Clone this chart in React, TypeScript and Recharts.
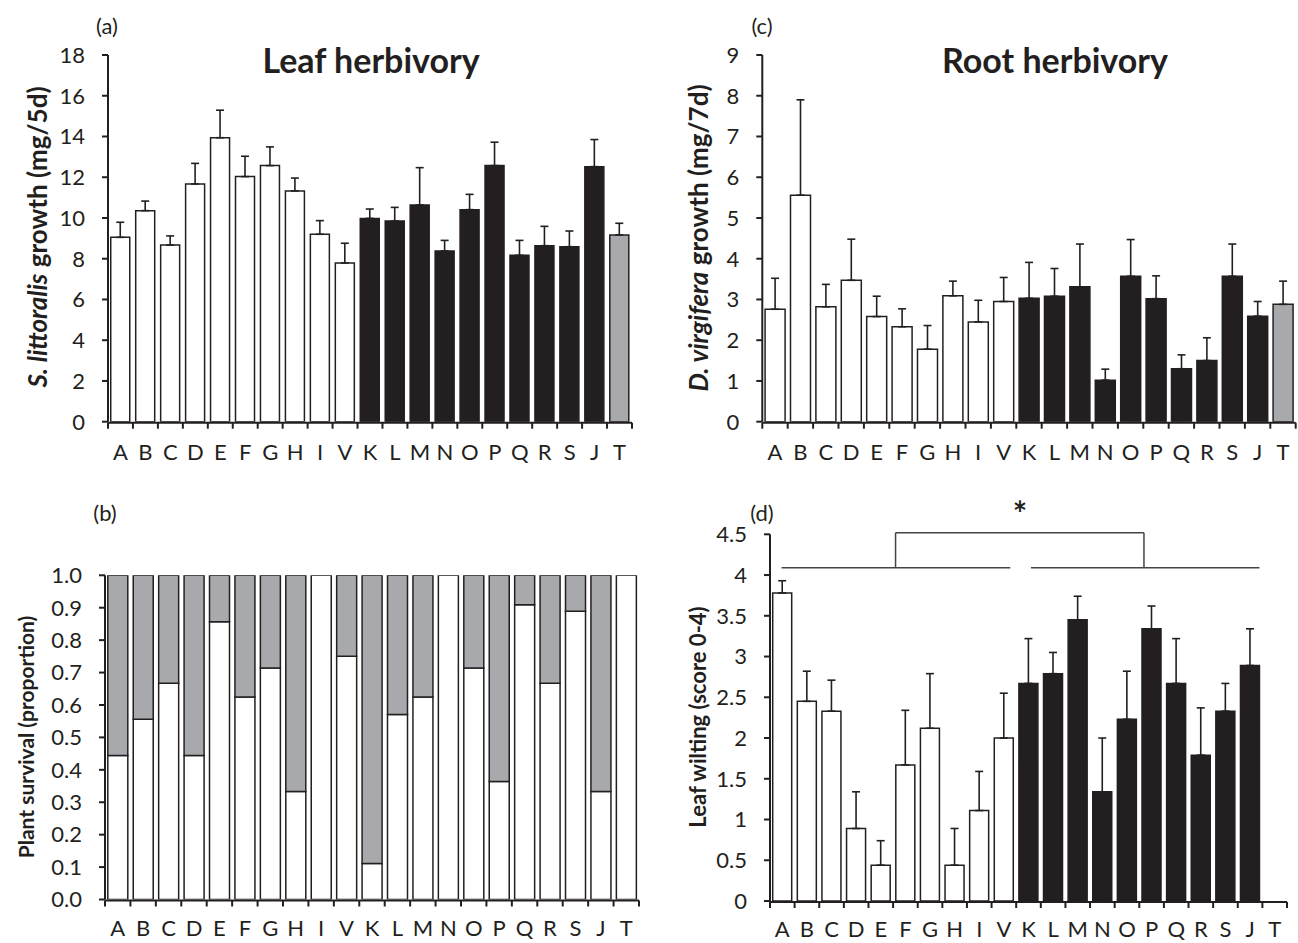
import { BarChart, Bar, XAxis, YAxis, ErrorBar, Cell, ReferenceLine } from "recharts";

const cats = ["A", "B", "C", "D", "E", "F", "G", "H", "I", "V", "K", "L", "M", "N", "O", "P", "Q", "R", "S", "J", "T"];
const groups = ["w", "w", "w", "w", "w", "w", "w", "w", "w", "w", "k", "k", "k", "k", "k", "k", "k", "k", "k", "k", "g"];

// (a) S. littoralis growth, mg/5d
const leafMean = [9.05, 10.36, 8.67, 11.67, 13.94, 12.03, 12.57, 11.33, 9.2, 7.79, 9.98, 9.85, 10.64, 8.38, 10.41, 12.57, 8.17, 8.64, 8.59, 12.52, 9.17];
const leafSe = [0.74, 0.47, 0.45, 1.01, 1.35, 1.0, 0.92, 0.63, 0.67, 0.97, 0.46, 0.67, 1.83, 0.52, 0.75, 1.15, 0.73, 0.95, 0.77, 1.33, 0.57];

// (c) D. virgifera growth, mg/7d
const rootMean = [2.76, 5.56, 2.82, 3.47, 2.58, 2.33, 1.78, 3.09, 2.45, 2.95, 3.03, 3.08, 3.31, 1.02, 3.57, 3.02, 1.3, 1.5, 3.57, 2.59, 2.88];
const rootSe = [0.76, 2.34, 0.55, 1.01, 0.5, 0.44, 0.58, 0.36, 0.53, 0.59, 0.88, 0.68, 1.05, 0.27, 0.9, 0.56, 0.34, 0.56, 0.79, 0.36, 0.57];

// (b) plant survival (white) and mortality (grey)
const alive = [0.444, 0.556, 0.667, 0.444, 0.857, 0.625, 0.714, 0.333, 1.0, 0.75, 0.111, 0.571, 0.625, 1.0, 0.714, 0.364, 0.909, 0.667, 0.889, 0.333, 1.0];
const dead = [0.556, 0.444, 0.333, 0.556, 0.143, 0.375, 0.286, 0.667, 0, 0.25, 0.889, 0.429, 0.375, 0, 0.286, 0.636, 0.091, 0.333, 0.111, 0.667, 0];

// (d) leaf wilting score
const wiltMean = [3.78, 2.45, 2.33, 0.89, 0.44, 1.67, 2.12, 0.44, 1.11, 2.0, 2.67, 2.79, 3.45, 1.34, 2.23, 3.34, 2.67, 1.79, 2.33, 2.89, null];
const wiltSe = [0.15, 0.37, 0.38, 0.45, 0.3, 0.67, 0.67, 0.45, 0.48, 0.55, 0.55, 0.26, 0.29, 0.66, 0.59, 0.28, 0.55, 0.58, 0.34, 0.45, null];

const leafTicks = [0, 2, 4, 6, 8, 10, 12, 14, 16, 18];
const rootTicks = [0, 1, 2, 3, 4, 5, 6, 7, 8, 9];
const survTicks = [0, 0.1, 0.2, 0.3, 0.4, 0.5, 0.6, 0.7, 0.8, 0.9, 1.0];
const wiltTicks = [0, 0.5, 1, 1.5, 2, 2.5, 3, 3.5, 4, 4.5];
const edgeTicks = [0, 1, 2, 3, 4, 5, 6, 7, 8, 9, 10, 11, 12, 13, 14, 15, 16, 17, 18, 19, 20, 21];

// significance bracket in (d), x in category units, y in score units
const groupLineY = 4.09;
const bracketTopY = 4.52;
const herbALine = [0.47, 9.76];
const herbBLine = [10.6, 19.88];
const bracketX = [5.1, 15.19];

const INK = "#231f20";
const FONT = "Lato, 'Open Sans', sans-serif";
const FILL: Record<string, string> = { w: "#ffffff", k: "#231f20", g: "#a7a9ac" };

type Box = { left: number; top: number; width: number; height: number; yWidth: number; labelGap: number; margin: { top: number; right: number; bottom: number; left: number } };

const tickStyle = { fontSize: 22, fill: INK, fontFamily: FONT };

function makeData(mean: (number | null)[], se: (number | null)[]) {
  return cats.map((c, i) => ({
    name: c,
    idx: i + 0.5,
    v: mean[i],
    err: se[i] == null ? null : [0, se[i]],
    g: groups[i],
  }));
}

const NoLabel = () => <g />;

function Axes({ domain, ticks, fmt, box }: { domain: number[]; ticks: number[]; fmt: (v: number) => string; box: Box }) {
  return [
    <XAxis key="cat" xAxisId="cat" dataKey="name" interval={0} height={1} axisLine={false} tickLine={false}
      tickSize={0} tickMargin={box.labelGap} tick={tickStyle} />,
    <XAxis key="edge" xAxisId="edge" type="number" dataKey="idx" domain={[0, 21]} ticks={edgeTicks} allowDataOverflow height={1}
      interval={0} tick={NoLabel} tickSize={6} axisLine={{ stroke: INK, strokeWidth: 2 }} tickLine={{ stroke: INK, strokeWidth: 2 }} />,
    <YAxis key="y" domain={domain} ticks={ticks} width={box.yWidth} allowDataOverflow tickFormatter={fmt}
      tickSize={6} tickMargin={17} tick={tickStyle}
      axisLine={{ stroke: INK, strokeWidth: 2 }} tickLine={{ stroke: INK, strokeWidth: 2 }} />,
  ];
}

function SeChart({ data, box, domain, ticks, fmt, children }: any) {
  return (
    <div style={{ position: "absolute", left: box.left, top: box.top }}>
      <BarChart width={box.width} height={box.height} data={data} margin={box.margin} barCategoryGap="11%">
        {Axes({ domain, ticks, fmt, box })}
        <Bar dataKey="v" xAxisId="cat" isAnimationActive={false} stroke={INK} strokeWidth={1.5}>
          {data.map((d: any) => (
            <Cell key={d.name} fill={FILL[d.g]} />
          ))}
          <ErrorBar dataKey="err" direction="y" width={4} stroke={INK} strokeWidth={1.6} />
        </Bar>
        {children}
      </BarChart>
    </div>
  );
}

function SurvivalChart({ box }: { box: Box }) {
  const data = cats.map((c, i) => ({ name: c, idx: i + 0.5, alive: alive[i], dead: dead[i] }));
  return (
    <div style={{ position: "absolute", left: box.left, top: box.top }}>
      <BarChart width={box.width} height={box.height} data={data} margin={box.margin} barCategoryGap="11%">
        {Axes({ domain: [0, 1], ticks: survTicks, fmt: (v) => v.toFixed(1), box })}
        <Bar dataKey="alive" stackId="s" xAxisId="cat" fill="#ffffff" stroke={INK} strokeWidth={1.5} isAnimationActive={false} />
        <Bar dataKey="dead" stackId="s" xAxisId="cat" fill="#a7a9ac" stroke={INK} strokeWidth={1.5} isAnimationActive={false} />
      </BarChart>
    </div>
  );
}

const boxA: Box = { left: 0, top: 0, width: 650, height: 470, yWidth: 108, labelGap: 23, margin: { top: 55, right: 18, bottom: 46.3, left: 0 } };
const boxC: Box = { left: 650, top: 0, width: 648, height: 470, yWidth: 112.3, labelGap: 23, margin: { top: 55, right: 2.3, bottom: 46.3, left: 0 } };
const boxB: Box = { left: 0, top: 470, width: 650, height: 473, yWidth: 105, labelGap: 21, margin: { top: 105.3, right: 11, bottom: 41.5, left: 0 } };
const boxD: Box = { left: 650, top: 470, width: 648, height: 473, yWidth: 120, labelGap: 20, margin: { top: 64.3, right: 11, bottom: 40, left: 0 } };

function YTitle({ x, y, size, italic, rest }: { x: number; y: number; size: number; italic?: string; rest: string }) {
  return (
    <text x={x} y={y} transform={`rotate(-90 ${x} ${y})`} textAnchor="middle" dominantBaseline="central"
      fontFamily={FONT} fontWeight={700} fontSize={size} fill={INK}>
      {italic ? <tspan fontStyle="italic">{italic}</tspan> : null}
      <tspan>{rest}</tspan>
    </text>
  );
}

function Overlay() {
  const small = { fontFamily: FONT, fontSize: 22, fill: INK, textAnchor: "middle" as const, dominantBaseline: "central" as const };
  const title = { fontFamily: FONT, fontSize: 34, fontWeight: 700, fill: INK, textAnchor: "middle" as const };
  return (
    <svg width={1298} height={943} style={{ position: "absolute", left: 0, top: 0, pointerEvents: "none" }}>
      <text x={107} y={25} {...small}>(a)</text>
      <text x={762} y={25} {...small}>(c)</text>
      <text x={105} y={512} {...small}>(b)</text>
      <text x={762} y={512} {...small}>(d)</text>
      <text x={371} y={73} {...title}>Leaf herbivory</text>
      <text x={1055} y={73} {...title}>Root herbivory</text>
      <text x={1020} y={526} fontFamily={FONT} fontSize={34} fontWeight={700} fill={INK} textAnchor="middle">*</text>
      <YTitle x={37} y={237} size={26} italic="S. littoralis" rest=" growth (mg/5d)" />
      <YTitle x={698} y={238} size={26} italic="D. virgifera" rest=" growth (mg/7d)" />
      <YTitle x={25} y={737} size={21} rest="Plant survival (proportion)" />
      <YTitle x={697} y={717} size={22} rest="Leaf wilting (score 0-4)" />
    </svg>
  );
}

export default function App() {
  const lineProps = { xAxisId: "edge", stroke: "#444", strokeWidth: 1.5, ifOverflow: "visible" as const };
  return (
    <div style={{ position: "absolute", left: 0, top: 0, width: 1298, height: 943, background: "#fff" }}>
      <SeChart data={makeData(leafMean, leafSe)} box={boxA} domain={[0, 18]} ticks={leafTicks} fmt={(v: number) => String(v)} />
      <SeChart data={makeData(rootMean, rootSe)} box={boxC} domain={[0, 9]} ticks={rootTicks} fmt={(v: number) => String(v)} />
      <SurvivalChart box={boxB} />
      <SeChart data={makeData(wiltMean, wiltSe)} box={boxD} domain={[0, 4.5]} ticks={wiltTicks} fmt={(v: number) => String(v)}>
        <ReferenceLine {...lineProps} segment={[{ x: herbALine[0], y: groupLineY }, { x: herbALine[1], y: groupLineY }]} />
        <ReferenceLine {...lineProps} segment={[{ x: herbBLine[0], y: groupLineY }, { x: herbBLine[1], y: groupLineY }]} />
        <ReferenceLine {...lineProps} segment={[{ x: bracketX[0], y: groupLineY }, { x: bracketX[0], y: bracketTopY }]} />
        <ReferenceLine {...lineProps} segment={[{ x: bracketX[0], y: bracketTopY }, { x: bracketX[1], y: bracketTopY }]} />
        <ReferenceLine {...lineProps} segment={[{ x: bracketX[1], y: bracketTopY }, { x: bracketX[1], y: groupLineY }]} />
      </SeChart>
      <Overlay />
    </div>
  );
}
